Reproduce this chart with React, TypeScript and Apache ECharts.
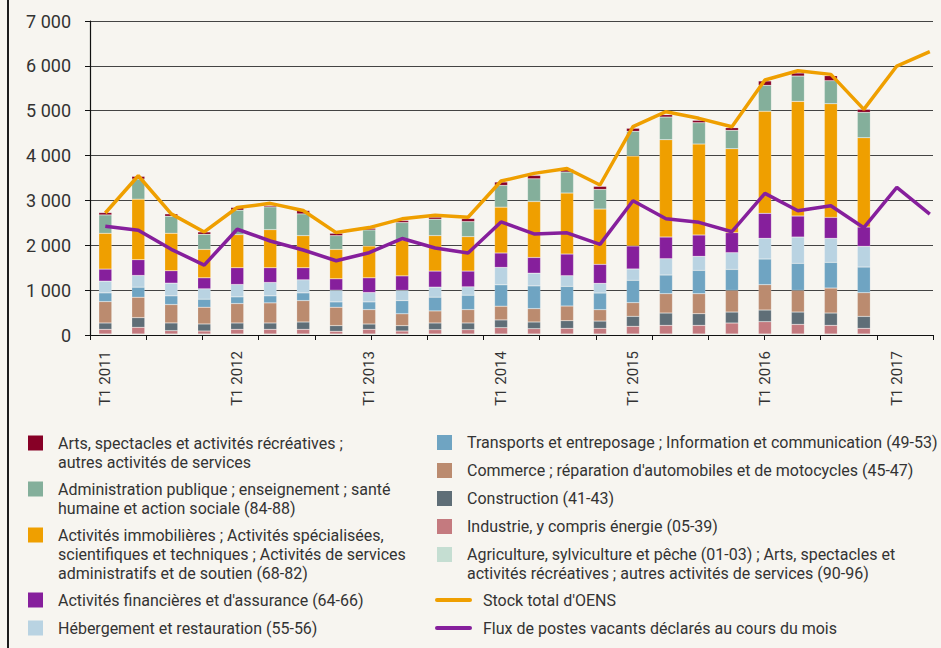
import React, { useEffect, useRef } from "react";
import * as echarts from "echarts";

const quarters = [
  "T1 2011", "T2 2011", "T3 2011", "T4 2011",
  "T1 2012", "T2 2012", "T3 2012", "T4 2012",
  "T1 2013", "T2 2013", "T3 2013", "T4 2013",
  "T1 2014", "T2 2014", "T3 2014", "T4 2014",
  "T1 2015", "T2 2015", "T3 2015", "T4 2015",
  "T1 2016", "T2 2016", "T3 2016", "T4 2016",
  "T1 2017", "T2 2017",
];

// Stacked sector values (bottom to top), T1 2011 .. T4 2016
const agriculture = [22, 22, 22, 22, 22, 22, 22, 22, 22, 22, 22, 22, 22, 22, 22, 22, 22, 22, 22, 22, 22, 22, 22, 22];
const industrie = [104, 149, 75, 67, 104, 104, 104, 60, 104, 67, 97, 97, 142, 119, 126, 126, 171, 193, 193, 245, 275, 215, 193, 126];
const construction = [142, 216, 172, 157, 142, 142, 164, 127, 119, 119, 149, 149, 172, 149, 171, 163, 223, 275, 260, 245, 260, 275, 275, 267];
const commerce = [477, 455, 410, 373, 433, 448, 477, 410, 321, 265, 269, 298, 306, 298, 327, 253, 305, 431, 446, 483, 565, 483, 557, 528];
const transports = [194, 224, 194, 179, 149, 157, 172, 119, 172, 294, 306, 321, 477, 507, 438, 372, 498, 416, 520, 468, 572, 602, 572, 572];
const hebergement = [261, 261, 283, 231, 276, 298, 291, 261, 209, 230, 224, 187, 388, 283, 238, 215, 253, 364, 312, 372, 461, 587, 535, 461];
const financieres = [269, 351, 276, 246, 373, 328, 269, 254, 328, 321, 358, 351, 321, 351, 483, 424, 513, 483, 476, 446, 557, 468, 468, 431];
const immobilieres = [798, 1350, 836, 634, 739, 850, 716, 656, 709, 800, 791, 768, 1022, 1246, 1360, 1233, 2006, 2170, 2028, 1872, 2274, 2556, 2534, 1991];
const administration = [410, 448, 380, 336, 545, 507, 485, 306, 358, 390, 366, 336, 485, 507, 468, 438, 550, 505, 476, 409, 580, 565, 513, 565];
const arts = [52, 60, 52, 52, 60, 30, 75, 52, 37, 45, 45, 67, 75, 75, 59, 67, 67, 52, 52, 59, 97, 67, 111, 67];

// Lines, T1 2011 .. T2 2017
const stockTotal = [2720, 3550, 2700, 2298, 2842, 2935, 2775, 2283, 2395, 2590, 2671, 2626, 3432, 3603, 3712, 3344, 4644, 4978, 4830, 4644, 5684, 5892, 5810, 5030, 5996, 6316];
const fluxVacants = [2425, 2335, 1910, 1559, 2357, 2096, 1895, 1656, 1835, 2150, 1940, 1828, 2521, 2253, 2278, 2021, 2994, 2593, 2511, 2303, 3158, 2771, 2883, 2392, 3291, 2697];

const yTickValues = [0, 1000, 2000, 3000, 4000, 5000, 6000, 7000];

const NAME_ARTS = "Arts, spectacles et activités récréatives ;\nautres activités de services";
const NAME_ADMIN = "Administration publique ; enseignement ; santé\nhumaine et action sociale (84-88)";
const NAME_IMMO = "Activités immobilières ; Activités spécialisées,\nscientifiques et techniques ; Activités de services\nadministratifs et de soutien (68-82)";
const NAME_FIN = "Activités financières et d'assurance (64-66)";
const NAME_HEB = "Hébergement et restauration (55-56)";
const NAME_TRANS = "Transports et entreposage ; Information et communication (49-53)";
const NAME_COMM = "Commerce ; réparation d'automobiles et de motocycles (45-47)";
const NAME_CONSTR = "Construction (41-43)";
const NAME_INDUS = "Industrie, y compris énergie (05-39)";
const NAME_AGRI = "Agriculture, sylviculture et pêche (01-03) ; Arts, spectacles et\nactivités récréatives ; autres activités de services (90-96)";
const NAME_STOCK = "Stock total d'OENS";
const NAME_FLUX = "Flux de postes vacants déclarés au cours du mois";

const C_ARTS = "#870026";
const C_ADMIN = "#84AF9B";
const C_IMMO = "#EF9F00";
const C_FIN = "#861F9C";
const C_HEB = "#B9D3E2";
const C_TRANS = "#6FA4C2";
const C_COMM = "#BB8B6F";
const C_CONSTR = "#5F6E77";
const C_INDUS = "#C47A7F";
const C_AGRI = "#C5DED2";

const BG = "#F7F5F0";
const FONT = "Roboto, 'Noto Sans', sans-serif";
const TXT = "#333333";

export default function App() {
  const ref = useRef<HTMLDivElement>(null);

  useEffect(() => {
    document.body.style.margin = "0";
    document.body.style.background = BG;
    const chart = echarts.init(ref.current as HTMLDivElement, null, { renderer: "svg" });

    const stackDefs = [
      { name: NAME_AGRI, data: agriculture, color: C_AGRI },
      { name: NAME_INDUS, data: industrie, color: C_INDUS },
      { name: NAME_CONSTR, data: construction, color: C_CONSTR },
      { name: NAME_COMM, data: commerce, color: C_COMM },
      { name: NAME_TRANS, data: transports, color: C_TRANS },
      { name: NAME_HEB, data: hebergement, color: C_HEB },
      { name: NAME_FIN, data: financieres, color: C_FIN },
      { name: NAME_IMMO, data: immobilieres, color: C_IMMO },
      { name: NAME_ADMIN, data: administration, color: C_ADMIN },
      { name: NAME_ARTS, data: arts, color: C_ARTS },
    ];

    const barSeries = stackDefs.map((d) => ({
      type: "bar",
      name: d.name,
      stack: "total",
      data: d.data,
      xAxisIndex: 0,
      yAxisIndex: 0,
      barWidth: 13,
      itemStyle: { color: d.color, borderColor: "rgba(255,255,255,0.35)", borderWidth: 0.5 },
    }));

    const lineSeries = [
      {
        type: "line",
        name: NAME_STOCK,
        data: stockTotal,
        xAxisIndex: 0,
        yAxisIndex: 0,
        symbol: "none",
        lineStyle: { color: C_IMMO, width: 3.5 },
        itemStyle: { color: C_IMMO },
      },
      {
        type: "line",
        name: NAME_FLUX,
        data: fluxVacants,
        xAxisIndex: 0,
        yAxisIndex: 0,
        symbol: "none",
        lineStyle: { color: C_FIN, width: 3.5 },
        itemStyle: { color: C_FIN },
      },
    ];

    // legend drawn as graphic
    const leftCol = [
      { name: NAME_ARTS, color: C_ARTS, y: 443 },
      { name: NAME_ADMIN, color: C_ADMIN, y: 489 },
      { name: NAME_IMMO, color: C_IMMO, y: 535 },
      { name: NAME_FIN, color: C_FIN, y: 600 },
      { name: NAME_HEB, color: C_HEB, y: 628 },
    ];
    const rightCol = [
      { name: NAME_TRANS, color: C_TRANS, y: 442.5 },
      { name: NAME_COMM, color: C_COMM, y: 470.5 },
      { name: NAME_CONSTR, color: C_CONSTR, y: 498.5 },
      { name: NAME_INDUS, color: C_INDUS, y: 526.5 },
      { name: NAME_AGRI, color: C_AGRI, y: 554.5 },
    ];
    const lineLegend = [
      { name: NAME_STOCK, color: C_IMMO, y: 600 },
      { name: NAME_FLUX, color: C_FIN, y: 628 },
    ];

    const graphics: any[] = [];
    const addSquareItem = (it: any, sx: number, tx: number) => {
      graphics.push({
        type: "rect",
        shape: { x: sx, y: it.y - 7.5, width: 15, height: 15 },
        style: { fill: it.color },
        silent: true,
      });
      graphics.push({
        type: "text",
        x: tx,
        y: it.y - 9.5,
        style: {
          text: it.name,
          fill: TXT,
          fontSize: 16,
          fontFamily: FONT,
          lineHeight: 19,
          textAlign: "left",
          textVerticalAlign: "top",
          align: "left",
          verticalAlign: "top",
        },
        silent: true,
      });
    };
    leftCol.forEach((it) => addSquareItem(it, 28, 58));
    rightCol.forEach((it) => addSquareItem(it, 437, 467));
    lineLegend.forEach((it) => {
      graphics.push({
        type: "line",
        shape: { x1: 437, y1: it.y, x2: 470, y2: it.y },
        style: { stroke: it.color, lineWidth: 4, lineCap: "round" },
        silent: true,
      });
      graphics.push({
        type: "text",
        x: 483,
        y: it.y - 9.5,
        style: {
          text: it.name,
          fill: TXT,
          fontSize: 16,
          fontFamily: FONT,
          lineHeight: 19,
          textAlign: "left",
          textVerticalAlign: "top",
          align: "left",
          verticalAlign: "top",
        },
        silent: true,
      });
    });

    const option: any = {
      animation: false,
      backgroundColor: "transparent",
      textStyle: { fontFamily: FONT },
      grid: [
        { left: 105.3, right: 11.2, top: 21, bottom: 313 },
        { left: 90, right: 8, top: 21, bottom: 313 },
      ],
      xAxis: [
        {
          type: "category",
          gridIndex: 0,
          data: quarters,
          boundaryGap: false,
          axisLine: { show: false },
          axisTick: { show: false },
          splitLine: { show: false },
          axisLabel: {
            interval: 3,
            rotate: 90,
            fontSize: 15,
            color: TXT,
            fontFamily: FONT,
            margin: 16,
          },
        },
        {
          type: "value",
          gridIndex: 1,
          min: 0,
          max: 15,
          interval: 1,
          axisLine: { show: true, lineStyle: { color: "#111", width: 1.2 } },
          axisTick: { show: true, length: 5, lineStyle: { color: "#111", width: 1 } },
          axisLabel: { show: false },
          splitLine: { show: false },
        },
      ],
      yAxis: [
        { type: "value", gridIndex: 0, min: 0, max: 7000, show: false },
        {
          type: "value",
          gridIndex: 1,
          min: 0,
          max: 7000,
          interval: 1000,
          axisLine: { show: true, lineStyle: { color: "#111", width: 1.2 } },
          axisTick: { show: true, length: 5, lineStyle: { color: "#111", width: 1 } },
          axisLabel: {
            fontSize: 18,
            color: TXT,
            fontFamily: FONT,
            margin: 19,
            formatter: (v: number) =>
              yTickValues.indexOf(v) >= 0 ? (v === 0 ? "0" : `${v / 1000} 000`) : "",
          },
          splitLine: { show: true, lineStyle: { color: "#444", width: 1.2 } },
        },
      ],
      series: [...barSeries, ...lineSeries],
      graphic: graphics,
    };

    chart.setOption(option);
    return () => chart.dispose();
  }, []);

  return (
    <div style={{ position: "relative", width: 941, height: 648, background: BG, overflow: "hidden" }}>
      <div ref={ref} style={{ position: "absolute", left: 0, top: 0, width: 941, height: 648 }} />
      <div style={{ position: "absolute", left: 7, top: 0, width: 2, height: 648, background: "#1c1c1c" }} />
    </div>
  );
}
